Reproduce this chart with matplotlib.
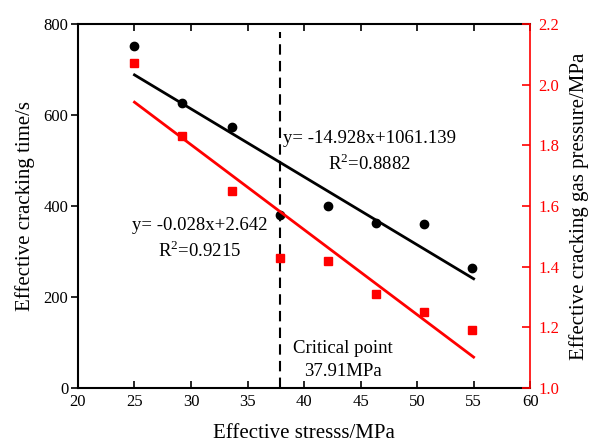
import matplotlib
matplotlib.use("Agg")
import matplotlib.pyplot as plt
import numpy as np

plt.rcParams['font.family'] = ['Liberation Serif', 'DejaVu Serif']
plt.rcParams['mathtext.fontset'] = 'custom'
plt.rcParams['mathtext.rm'] = 'Liberation Serif'

stress = [25.0, 29.2, 33.6, 37.9, 42.1, 46.4, 50.6, 54.9]
crack_time = [752, 627, 573, 381, 401, 363, 360, 263]
crack_pressure = [2.07, 1.83, 1.65, 1.43, 1.42, 1.31, 1.25, 1.19]
fit_time = (-14.928, 1061.139)
fit_pressure = (-0.028, 2.642)
fit_range = [25, 55]
critical_stress = 37.91

fig = plt.figure(figsize=(5.95, 4.42), dpi=100)
ax = fig.add_axes([0.131, 0.122, 0.760, 0.824])
ax2 = ax.twinx()

xf = np.array(fit_range)
ax.plot(stress, crack_time, 'o', color='black', ms=6, zorder=5)
ax.plot(xf, fit_time[0] * xf + fit_time[1], color='black', lw=2)
ax2.plot(stress, crack_pressure, 's', color='red', ms=6, zorder=5)
ax2.plot(xf, fit_pressure[0] * xf + fit_pressure[1], color='red', lw=2)
ax.plot([critical_stress, critical_stress], [0, 783], color='black', lw=1.5, ls=(0, (5, 3)))

ax.set_xlim(20, 60)
ax.set_ylim(0, 800)
ax2.set_ylim(1.0, 2.2)
ax.set_xticks(np.arange(20, 61, 5))
ax.set_yticks(np.arange(0, 801, 200))
ax2.set_yticks(np.arange(1.0, 2.21, 0.2))
ax2.set_yticklabels([f"{v:.1f}" for v in np.arange(1.0, 2.21, 0.2)])

ax.tick_params(axis='x', direction='in', top=True, length=5, width=1.2, labelsize=12, pad=4)
ax.tick_params(axis='y', direction='out', length=5, width=1.2, labelsize=12, pad=2)
ax2.tick_params(axis='y', direction='in', length=6, width=1.2, labelsize=12,
                colors='red', pad=6)
for s in ['left', 'top', 'bottom']:
    ax.spines[s].set_linewidth(1.5)
ax2.spines['right'].set_color('red')
ax2.spines['right'].set_linewidth(1.2)
ax.spines['right'].set_visible(False)
for s in ['left', 'top', 'bottom']:
    ax2.spines[s].set_visible(False)

ax.set_xlabel('Effective stresss/MPa', fontsize=15, labelpad=10)
ax.set_ylabel('Effective cracking time/s', fontsize=15, labelpad=6)
ax2.set_ylabel('Effective cracking gas pressure/MPa', fontsize=15, labelpad=7)

ax.text(45.8, 549, 'y= -14.928x+1061.139', fontsize=13.5, ha='center', va='center')
ax.text(45.8, 494, r'R$^2$=0.8882', fontsize=13.5, ha='center', va='center')
ax.text(30.8, 358, 'y= -0.028x+2.642', fontsize=13.5, ha='center', va='center')
ax.text(30.8, 301, r'R$^2$=0.9215', fontsize=13.5, ha='center', va='center')
ax.text(43.4, 88, 'Critical point', fontsize=13.5, ha='center', va='center')
ax.text(43.4, 36, '37.91MPa', fontsize=13.5, ha='center', va='center')

fig.savefig('out.png', dpi=100)
